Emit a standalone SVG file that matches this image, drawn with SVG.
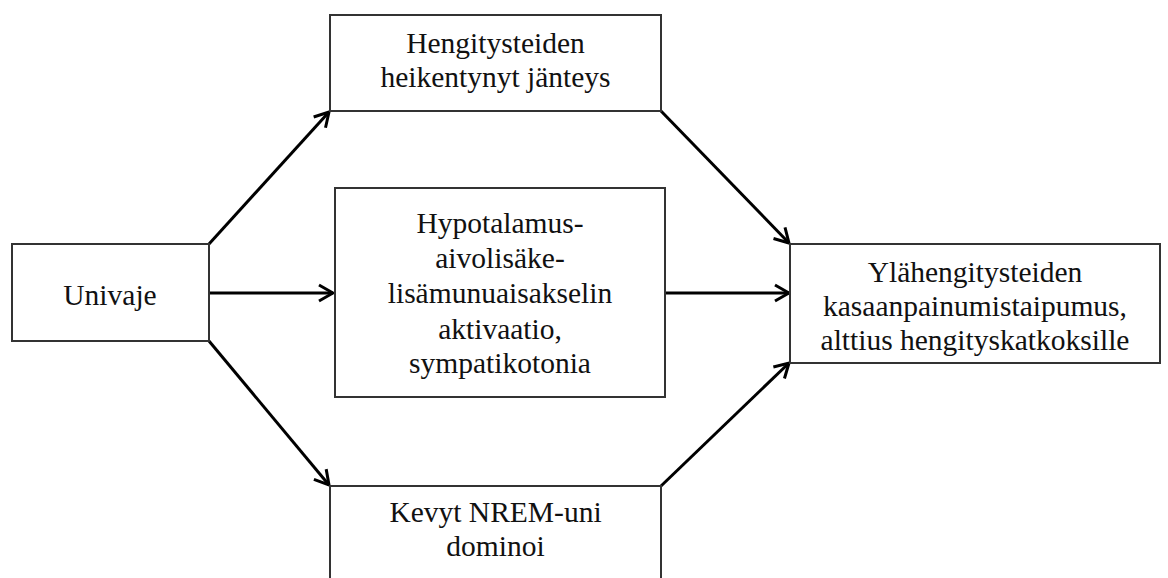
<svg xmlns="http://www.w3.org/2000/svg" width="1168" height="578" viewBox="0 0 1168 578">
<style>
.box{fill:#fff;stroke:#333;stroke-width:2}
.t{font-family:"Liberation Serif","Times New Roman",serif;font-size:29.5px;fill:#111;text-anchor:middle}
.c{fill:none;stroke:#000;stroke-width:3}
</style>
<defs>
<marker id="ah" markerUnits="userSpaceOnUse" markerWidth="20" markerHeight="20" viewBox="0 0 20 20" refX="18" refY="10" orient="auto">
<path d="M4,2 L18,10 L4,18" fill="none" stroke="#000" stroke-width="3"/>
</marker>
</defs>
<rect width="1168" height="578" fill="#fff"/>
<g id="connectors">
<line class="c" x1="209" y1="244" x2="329" y2="112" marker-end="url(#ah)"/>
<line class="c" x1="209" y1="293" x2="333" y2="293" marker-end="url(#ah)"/>
<line class="c" x1="209" y1="341" x2="329" y2="485" marker-end="url(#ah)"/>
<line class="c" x1="661" y1="111" x2="789" y2="243" marker-end="url(#ah)"/>
<line class="c" x1="665" y1="293" x2="789" y2="293" marker-end="url(#ah)"/>
<line class="c" x1="661" y1="486" x2="789" y2="363" marker-end="url(#ah)"/>
</g>
<g id="univaje">
<rect class="box" x="12" y="244" width="197" height="97"/>
<text class="t" x="110" y="305">Univaje</text>
</g>
<g id="hengitysteiden">
<rect class="box" x="330" y="15" width="331" height="96"/>
<text class="t" x="495.5" y="53">Hengitysteiden</text>
<text class="t" x="495.5" y="87">heikentynyt jänteys</text>
</g>
<g id="hpa">
<rect class="box" x="335" y="188" width="330" height="209"/>
<text class="t" x="500" y="233">Hypotalamus-</text>
<text class="t" x="500" y="268">aivolisäke-</text>
<text class="t" x="500" y="303">lisämunuaisakselin</text>
<text class="t" x="500" y="339">aktivaatio,</text>
<text class="t" x="500" y="373">sympatikotonia</text>
</g>
<g id="nrem">
<rect class="box" x="330" y="486" width="331" height="110"/>
<text class="t" x="495.5" y="522">Kevyt NREM-uni</text>
<text class="t" x="495.5" y="556">dominoi</text>
</g>
<g id="ylahengitysteiden">
<rect class="box" x="790" y="244" width="370" height="119"/>
<text class="t" x="975" y="282">Ylähengitysteiden</text>
<text class="t" x="975" y="316">kasaanpainumistaipumus,</text>
<text class="t" x="975" y="350">alttius hengityskatkoksille</text>
</g>
</svg>
